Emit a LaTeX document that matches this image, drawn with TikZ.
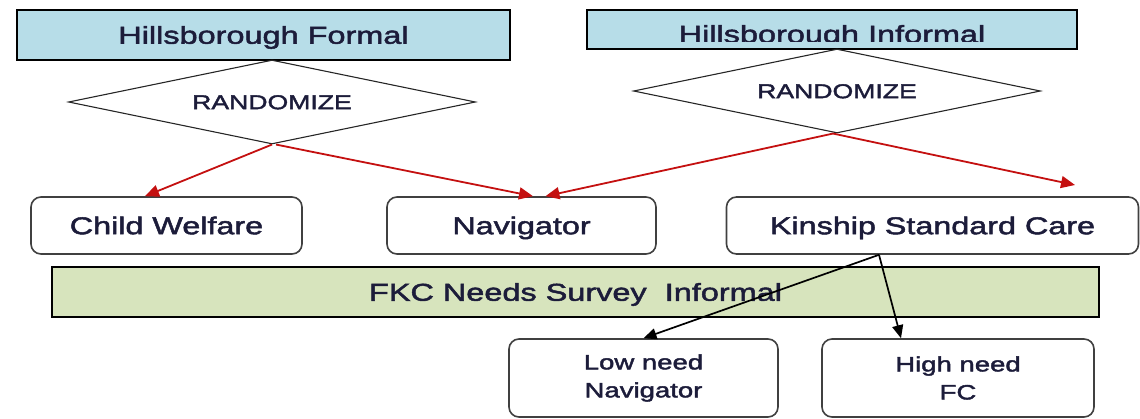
\documentclass[tikz,border=0pt]{standalone}
\usepackage{fontspec}
\setmainfont{Liberation Sans}[FakeStretch=1.33,FakeBold=2]
\usetikzlibrary{shapes.geometric,arrows.meta}
\definecolor{hblue}{RGB}{183,221,232}
\definecolor{fkcgreen}{RGB}{215,228,189}
\definecolor{randred}{RGB}{196,16,16}
\definecolor{ink}{RGB}{28,28,58}
\begin{document}
\begin{tikzpicture}[x=1pt,y=-1pt,
  toptext/.style={text=ink,font=\fontsize{24.4}{29}\selectfont,text height=17.5pt,text depth=0pt,inner sep=0pt},
  topbox/.style={toptext,draw=black,line width=1.6pt,fill=hblue},
  choice/.style={diamond,aspect=4.845,draw=black!85,line width=1.1pt,inner sep=0pt,
    minimum width=407pt,minimum height=84pt,text=ink,
    font=\fontsize{20}{24}\selectfont,text height=14.3pt,text depth=0pt},
  option/.style={draw=black!75,line width=1.6pt,rounded corners=10pt,fill=white,
    text=ink,inner sep=0pt},
  rowtext/.style={font=\fontsize{24.3}{29}\selectfont,text height=17.4pt,text depth=0pt},
  subtext/.style={font=\fontsize{20.7}{28}\selectfont,align=center},
  survey/.style={draw=black,line width=1.6pt,fill=fkcgreen,text=ink,inner sep=0pt,
    font=\fontsize{24.4}{29}\selectfont,text height=17.5pt,text depth=0pt},
  redarrow/.style={draw=randred,line width=1.8pt,-{Triangle[length=14pt,width=12pt]}},
  blackarrow/.style={draw=black,line width=1.7pt,-{Triangle[length=13pt,width=11pt]}}]
\useasboundingbox (0,0) rectangle (1140,418);

% group headers
\node[topbox,minimum width=493pt,minimum height=50pt] (hf) at (263.5,35) {Hillsborough Formal};
\node[topbox,minimum width=490pt,minimum height=39pt] (hi) at (832,29.5) {};
\begin{scope}
  \clip (588,11) rectangle (1076,41);
  \node[toptext] (hitext) at (832,34) {Hillsborough Informal};
\end{scope}

% randomisation steps
\node[choice] (r1) at (272,102) {RANDOMIZE};
\node[choice] (r2) at (837,91) {RANDOMIZE};

% service arms
\node[option,rowtext,minimum width=271pt,minimum height=57pt] (cw) at (166.5,225.5) {Child Welfare};
\node[option,rowtext,minimum width=269pt,minimum height=57pt] (nav) at (521.5,225.5) {Navigator};
\node[option,rowtext,minimum width=412pt,minimum height=57pt] (ksc) at (932.5,225.5) {Kinship Standard Care};

% survey band
\node[survey,minimum width=1047pt,minimum height=50pt] (fkc) at (575.5,292) {FKC Needs Survey\ \ Informal};

% need levels
\node[option,subtext,minimum width=269pt,minimum height=78pt] (low) at (643.5,378) {Low need\\Navigator};
\node[option,subtext,minimum width=272pt,minimum height=78pt] (high) at (958,378) {High need\\FC};

% random assignment
\coordinate (kscin) at (1075,185);
\draw[redarrow] (r1.south) -- ([xshift=-21.5pt]cw.north);
\draw[redarrow] ([xshift=4pt]r1.south) -- ([xshift=11.5pt]nav.north);
\draw[redarrow] ([xshift=-4pt]r2.south) -- ([xshift=24pt]nav.north);
\draw[redarrow] ([xshift=-4pt]r2.south) -- (kscin);

% split by need
\coordinate (split) at ([xshift=-53.5pt]ksc.south);
\draw[blackarrow] (split) -- (low.north);
\draw[blackarrow] (split) -- ([xshift=-57pt]high.north);
\end{tikzpicture}
\end{document}
